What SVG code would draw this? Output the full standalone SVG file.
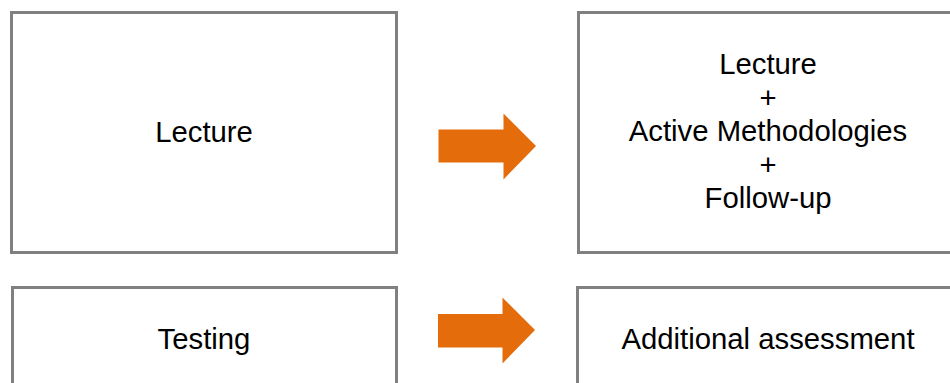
<svg xmlns="http://www.w3.org/2000/svg" width="950" height="383" viewBox="0 0 950 383">
<style>
.box{fill:#fff;stroke:#808080;stroke-width:3}
.t{font-family:"Liberation Sans",Arial,sans-serif;font-size:29.3px;fill:#000;text-anchor:middle}
.arr{fill:#E46C0A}
</style>
<rect width="950" height="383" fill="#fff"/>
<g id="n-lecture"><rect class="box" x="11.5" y="12.5" width="385" height="240"/><text class="t" x="204" y="142">Lecture</text></g>
<g id="n-combined"><rect class="box" x="578.5" y="12.5" width="385" height="240"/>
<text class="t" x="768" y="74">Lecture</text>
<text class="t" x="768" y="107.5">+</text>
<text class="t" x="768" y="141">Active Methodologies</text>
<text class="t" x="768" y="174.5">+</text>
<text class="t" x="768" y="208">Follow-up</text></g>
<g id="n-testing"><rect class="box" x="12.5" y="287.5" width="384" height="240"/><text class="t" x="204" y="349">Testing</text></g>
<g id="n-assessment"><rect class="box" x="577.5" y="287.5" width="385" height="240"/><text class="t" x="768" y="349">Additional assessment</text></g>
<g id="connectors">
<polygon class="arr" points="438.5,129.5 503.5,129.5 503.5,113.5 536,146 503.5,179.5 503.5,162.5 438.5,162.5"/>
<polygon class="arr" points="438,314 502.5,314 502.5,297.5 535,330 502.5,363.5 502.5,347.5 438,347.5"/>
</g>
</svg>
